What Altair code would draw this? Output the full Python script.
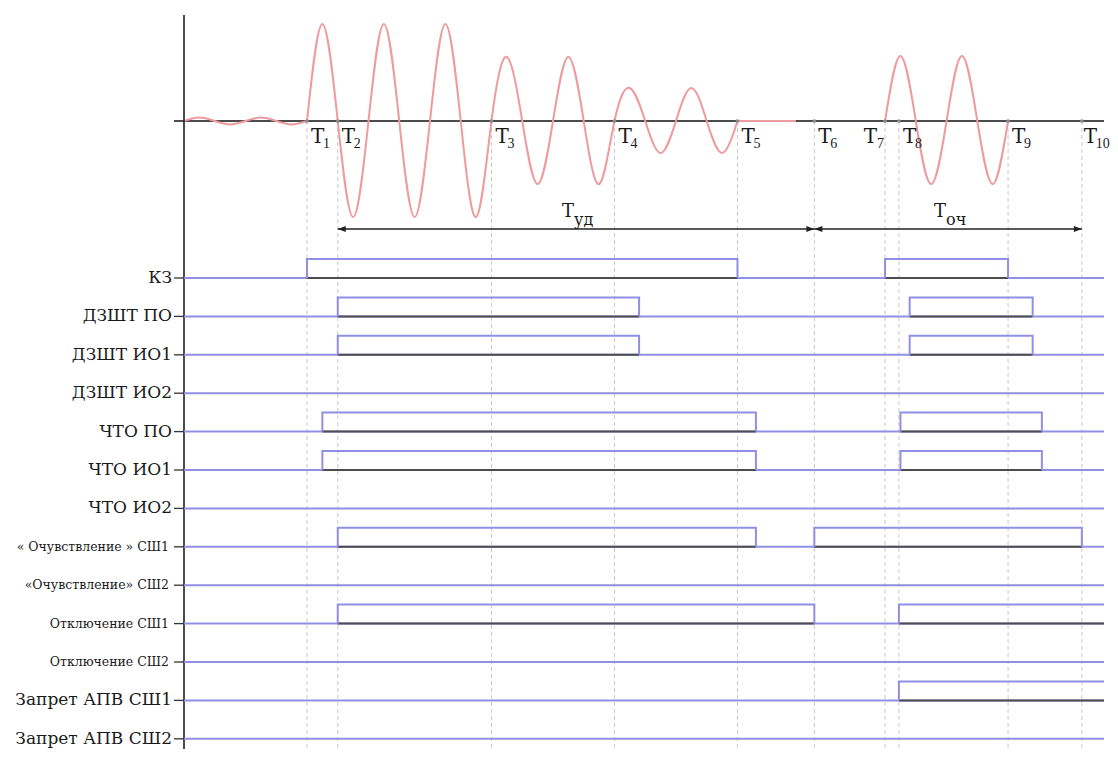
import altair as alt
import pandas as pd

# ---------------- data ----------------
# time marks T1..T10 (ms)
t_names = ["1", "2", "3", "4", "5", "6", "7", "8", "9", "10"]
t_times = [40, 50, 100, 140, 180, 205, 228, 232.5, 268, 292]
t_label_left = ["7"]          # label drawn to the left of its mark

# signal rows (top to bottom)
rows = [
    "КЗ", "ДЗШТ ПО", "ДЗШТ ИО1", "ДЗШТ ИО2", "ЧТО ПО", "ЧТО ИО1", "ЧТО ИО2",
    "« Очувствление » СШ1", "«Очувствление» СШ2", "Отключение СШ1",
    "Отключение СШ2", "Запрет АПВ СШ1", "Запрет АПВ СШ2",
]
# active intervals per row (start, end); None = still active at the end
pulses = [
    [(40, 180), (228, 268)],
    [(50, 148), (236, 276)],
    [(50, 148), (236, 276)],
    [],
    [(45, 186), (233, 279)],
    [(45, 186), (233, 279)],
    [],
    [(50, 186), (205, 292)],
    [],
    [(50, 205), (232.5, None)],
    [],
    [(232.5, None)],
    [],
]

# current waveform points (time ms, relative value), per segment
pre_t = [0, 5, 10, 15, 20, 25, 30, 35, 40]
pre_v = [0, 0.035, 0, -0.035, 0, 0.035, 0, -0.035, 0]
fault_t = [40, 45, 50, 55, 60, 65, 70, 75, 80, 85, 90, 95, 100,
           105, 110, 115, 120, 125, 130, 135, 140,
           145, 150, 155, 160, 165, 170, 175, 180]
fault_v = [0, 1.0, 0, -0.99, 0, 1.0, 0, -0.99, 0, 1.0, 0, -0.99, 0,
           0.66, 0, -0.65, 0, 0.66, 0, -0.65, 0,
           0.34, 0, -0.33, 0, 0.34, 0, -0.33, 0]
flat_t = [180, 199]
flat_v = [0, 0]
burst_t = [228, 233, 238, 243, 248, 253, 258, 263, 268]
burst_v = [0, 0.67, 0, -0.65, 0, 0.67, 0, -0.65, 0]

# duration arrows
arrow_start = [50, 205]
arrow_end = [205, 292]
arrow_sub = ["уд", "оч"]
arrow_level = -1.113

# ---------------- layout / style ----------------
T_MAX = 299.2
X_DOMAIN = [0, T_MAX]
ROW_DOMAIN = [-7.03125, 12.2656]
WAVE_DOMAIN = [-6.4742, 1.1649]
AXIS_TOP = 1.0928
TICK_LEFT = -3.25
PULSE_H = 0.495
BLUE = "#8f8fe6"
GRAY = "#4d4d4d"
PINK = "#ef9a9e"
FONT = "DejaVu Serif"
SUBFONT = "Liberation Serif"

xs = alt.Scale(domain=X_DOMAIN, nice=False, zero=False)
ws = alt.Scale(domain=WAVE_DOMAIN, nice=False, zero=False)
rs = alt.Scale(domain=ROW_DOMAIN, nice=False, zero=False, reverse=True)


def X(f="t"):
    return alt.X(f"{f}:Q", scale=xs, axis=None)


def W(f="w"):
    return alt.Y(f"{f}:Q", scale=ws, axis=None)


def R(f="r"):
    return alt.Y(f"{f}:Q", scale=rs, axis=None)


# ---------------- build tables ----------------
wave_rows = []
for seg, (ts, vs) in {"pre": (pre_t, pre_v), "fault": (fault_t, fault_v),
                      "flat": (flat_t, flat_v), "burst": (burst_t, burst_v)}.items():
    for tt, vv in zip(ts, vs):
        wave_rows.append({"seg": seg, "t": tt, "w": vv})
wave_df = pd.DataFrame(wave_rows)

tm_df = pd.DataFrame({"t": t_times, "name": t_names})
tm_df["w"] = 0.0
tm_df["wb"] = WAVE_DOMAIN[0]
tm_df["left"] = tm_df["name"].isin(t_label_left)

haxis_df = pd.DataFrame({"t": [TICK_LEFT], "t2": [T_MAX], "w": [0.0]})
vaxis_df = pd.DataFrame({"t": [0.0], "w": [AXIS_TOP], "w2": [WAVE_DOMAIN[0]]})

arr_df = pd.DataFrame({"start": arrow_start, "end": arrow_end, "sub": arrow_sub})
arr_df["w"] = arrow_level

base_df = pd.DataFrame({"r": list(range(len(rows))), "name": rows})
base_df["t"] = 0.0
base_df["t2"] = T_MAX
base_df["tl"] = TICK_LEFT

seg_rows, outline = [], []
for k, plist in enumerate(pulses):
    for j, (a, b) in enumerate(plist):
        end = T_MAX if b is None else b
        seg_rows.append({"r": k, "t": a, "t2": end})
        pts = [(a, k), (a, k - PULSE_H), (end, k - PULSE_H)]
        if b is not None:
            pts.append((b, k))
        for i, (tt, rr) in enumerate(pts):
            outline.append({"pid": f"{k}-{j}", "i": i, "t": tt, "r": rr})
seg_df = pd.DataFrame(seg_rows)
out_df = pd.DataFrame(outline)

# ---------------- waveform group ----------------
dashes = alt.Chart(tm_df).mark_rule(color="#c9c9c9", strokeDash=[4, 3], strokeWidth=1).encode(
    x=X(), y=W("w"), y2="wb:Q")
haxis = alt.Chart(haxis_df).mark_rule(color="#111", strokeWidth=1.5).encode(
    x=X(), x2="t2:Q", y=W())
vaxis = alt.Chart(vaxis_df).mark_rule(color="#111", strokeWidth=1.5).encode(
    x=X(), y=W(), y2="w2:Q")
wave = alt.Chart(wave_df).mark_line(interpolate="natural", color=PINK, strokeWidth=2).encode(
    x=X(), y=W(), detail="seg:N", order="t:Q")
dots = alt.Chart(tm_df).mark_circle(size=14, color="#8a8a8a", opacity=1).encode(x=X(), y=W())

is_last = "datum.name == '10'"
t_right = alt.Chart(tm_df).transform_filter("!datum.left && !(" + is_last + ")")
t_last = alt.Chart(tm_df).transform_filter(is_last)
t_left = alt.Chart(tm_df).transform_filter("datum.left")
txt = dict(color="#1a1a1a", baseline="alphabetic")


def t_label(base, t_align, t_dx, s_dx):
    lab = base.mark_text(text="T", align=t_align, dx=t_dx, dy=22, fontSize=20, font=FONT, **txt).encode(
        x=X(), y=W())
    sub = base.mark_text(align="left", dx=s_dx, dy=27, fontSize=14, font=SUBFONT, **txt).encode(
        x=X(), y=W(), text="name:N")
    return [lab, sub]


t_labels = (t_label(t_right, "left", 4, 16) + t_label(t_last, "left", 2, 14)
            + t_label(t_left, "right", -8, -8))

arr_line = alt.Chart(arr_df).mark_rule(color="#222", strokeWidth=1.5).encode(
    x=X("start"), x2="end:Q", y=W())
head_l = alt.Chart(arr_df).mark_point(shape="M0,0L1,-0.375L1,0.375Z", size=256, filled=True,
                                      color="#222", opacity=1, strokeWidth=0).encode(x=X("start"), y=W())
head_r = alt.Chart(arr_df).mark_point(shape="M0,0L-1,-0.375L-1,0.375Z", size=256, filled=True,
                                      color="#222", opacity=1, strokeWidth=0).encode(x=X("end"), y=W())
arr_base = alt.Chart(arr_df).transform_calculate(mid="(datum.start + datum.end) / 2")
arr_T = arr_base.mark_text(text="T", align="right", dx=-2, dy=-12, fontSize=18, font=FONT, **txt).encode(
    x=X("mid"), y=W())
arr_S = arr_base.mark_text(align="left", dx=-2, dy=-4, fontSize=16, font=FONT, **txt).encode(
    x=X("mid"), y=W(), text="sub:N")

wave_group = alt.layer(dashes, haxis, wave, dots, *t_labels,
                       arr_line, head_l, head_r, arr_T, arr_S, vaxis)

# ---------------- signal rows group ----------------
small = "indexof(datum.name, 'ение') >= 0"
baselines = alt.Chart(base_df).mark_rule(color=BLUE, strokeWidth=2).encode(
    x=X(), x2="t2:Q", y=R())
ticks = alt.Chart(base_df).mark_rule(color="#333", strokeWidth=1.3).encode(
    x=X("tl"), x2="t:Q", y=R())
labels_big = alt.Chart(base_df).transform_filter("!(" + small + ")").mark_text(
    align="right", baseline="middle", dx=-12, fontSize=17, font=FONT, color="#1a1a1a").encode(
    x=X(), y=R(), text="name:N")
labels_small = alt.Chart(base_df).transform_filter(small).mark_text(
    align="right", baseline="middle", dx=-15, fontSize=12.5, font=FONT, color="#1a1a1a").encode(
    x=X(), y=R(), text="name:N")
lows = alt.Chart(seg_df).mark_rule(color=GRAY, strokeWidth=2).encode(
    x=X(), x2="t2:Q", y=R())
highs = alt.Chart(out_df).mark_line(color=BLUE, strokeWidth=2, strokeJoin="miter").encode(
    x=X(), y=R(), detail="pid:N", order="i:Q")

row_group = alt.layer(baselines, ticks, labels_big, labels_small, lows, highs)

chart = alt.layer(wave_group, row_group).resolve_scale(y="independent").properties(
    width=920, height=741,
    autosize=alt.AutoSizeParams(type="none"),
    padding={"left": 176, "top": 0, "right": 6, "bottom": 0},
    background="white",
).configure_view(stroke=None)

chart.save("out.html", embed_options={"renderer": "svg", "actions": False})
